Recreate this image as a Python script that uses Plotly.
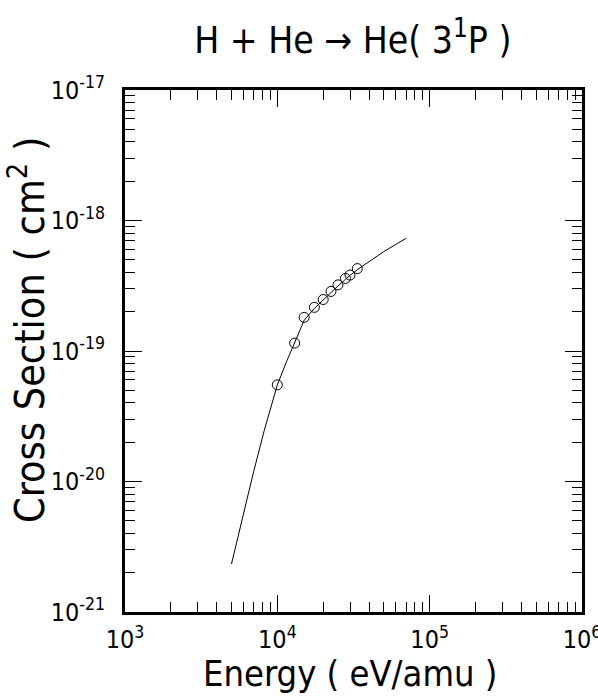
import plotly.graph_objects as go

# ---- data ----
data_energy = [1.0e4, 1.3e4, 1.5e4, 1.75e4, 2.0e4, 2.25e4, 2.5e4, 2.8e4, 3.0e4, 3.35e4]
data_sigma = [5.5e-20, 1.15e-19, 1.81e-19, 2.16e-19, 2.48e-19, 2.86e-19, 3.21e-19, 3.60e-19, 3.82e-19, 4.28e-19]

fit_energy = [5.0e3, 6.0e3, 7.0e3, 8.2e3, 1.0e4, 1.15e4, 1.3e4, 1.5e4, 1.75e4, 2.0e4, 2.5e4, 3.0e4, 3.5e4, 5.0e4, 7.0e4]
fit_sigma = [2.33e-21, 5.7e-21, 1.2e-20, 2.45e-20, 5.5e-20, 8.3e-20, 1.15e-19, 1.72e-19, 2.12e-19, 2.47e-19, 3.15e-19, 3.8e-19, 4.35e-19, 5.78e-19, 7.3e-19]

x_major = [1e3, 1e4, 1e5, 1e6]
x_major_text = ["10<sup>3</sup>", "10<sup>4</sup>", "10<sup>5</sup>", "10<sup>6</sup>"]
y_major = [1e-21, 1e-20, 1e-19, 1e-18, 1e-17]
y_major_text = ["10<sup>-21</sup>", "10<sup>-20</sup>", "10<sup>-19</sup>", "10<sup>-18</sup>", "10<sup>-17</sup>"]

x_minor = [k * 10 ** n for n in range(3, 6) for k in range(2, 10)]
y_minor = [k * 10.0 ** n for n in range(-21, -17) for k in range(2, 10)]

FONT = "DejaVu Sans Condensed, Liberation Sans Narrow, Liberation Sans, sans-serif"

fig = go.Figure()
fig.add_trace(go.Scatter(x=fit_energy, y=fit_sigma, mode="lines",
                         line=dict(color="black", width=1), showlegend=False))
fig.add_trace(go.Scatter(x=data_energy, y=data_sigma, mode="markers",
                         marker=dict(symbol="circle-open", size=10, color="black",
                                     line=dict(width=1, color="black")),
                         showlegend=False))

axis_common = dict(
    showline=True, linecolor="black", linewidth=3, mirror="allticks",
    ticks="inside", ticklen=17, tickwidth=1, tickcolor="black",
    showgrid=False, zeroline=False, ticklabeloverflow="allow",
    tickfont=dict(family=FONT, size=25, color="black"),
)

fig.update_xaxes(type="log", range=[3, 6], tickmode="array",
                 tickvals=x_major, ticktext=x_major_text,
                 minor=dict(tickmode="array", tickvals=x_minor, ticks="inside",
                            ticklen=10, tickwidth=1, tickcolor="black", showgrid=False),
                 ticklabelstandoff=3,
                 **axis_common)
fig.update_yaxes(type="log", range=[-21, -17], tickmode="array",
                 tickvals=y_major, ticktext=y_major_text,
                 minor=dict(tickmode="array", tickvals=y_minor, ticks="inside",
                            ticklen=10, tickwidth=1, tickcolor="black", showgrid=False),
                 ticklabelstandoff=12,
                 **axis_common)

fig.add_annotation(text="Energy ( eV/amu )",
                   xref="paper", yref="paper", x=(350 - 125) / 457, y=(612 - 673) / 522,
                   xanchor="center", yanchor="middle", showarrow=False,
                   font=dict(family=FONT, size=36, color="black"))
fig.add_annotation(text="Cross Section ( cm<sup>2</sup> )", textangle=-90,
                   xref="paper", yref="paper", x=(27 - 125) / 457, y=(612 - 330) / 522,
                   xanchor="center", yanchor="middle", showarrow=False,
                   font=dict(family=FONT, size=41, color="black"))

fig.update_layout(
    width=598, height=696,
    margin=dict(l=125, r=16, t=90, b=84, autoexpand=False),
    paper_bgcolor="white", plot_bgcolor="white",
    title=dict(text="H + He → He( 3<sup>1</sup>P )", x=0.59, xanchor="center",
               y=1 - 40 / 696, yanchor="middle", yref="container",
               font=dict(family=FONT, size=37, color="black")),
)

fig.write_html("out.html", config={"displayModeBar": False},
               post_script="document.body.style.margin='0';document.body.style.overflow='hidden';")
